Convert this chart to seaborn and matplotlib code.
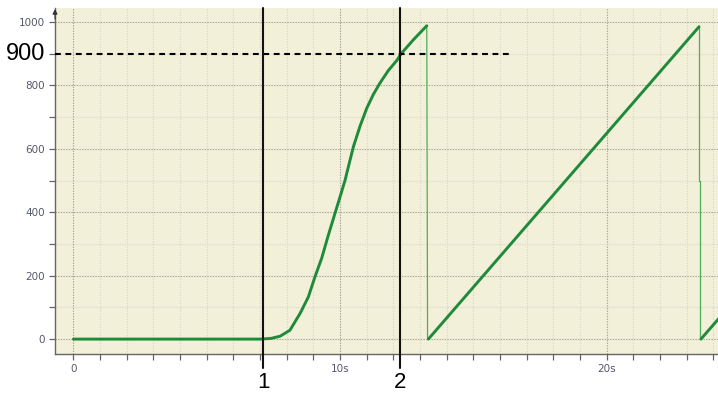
import matplotlib
matplotlib.use("Agg")
import matplotlib.pyplot as plt
from matplotlib.ticker import MultipleLocator, FixedLocator, FuncFormatter
import seaborn as sns
import pandas as pd

# Measured signal (time in seconds, value in counts)
rise_t = [0.0, 7.0, 7.4, 7.75, 8.12, 8.5, 8.81, 9.06, 9.31, 9.56, 9.81, 10.0,
          10.19, 10.25, 10.5, 10.75, 11.0, 11.25, 11.5, 11.81, 12.12, 12.31,
          12.75, 13.25]
rise_v = [0, 0, 2, 9, 28, 81, 133, 197, 255, 328, 397, 449,
          502, 523, 607, 672, 728, 772, 808, 847, 878, 902,
          944, 988]
ramp1_t = [13.31, 23.46]
ramp1_v = [0, 985]
ramp2_t = [23.53, 24.5]
ramp2_v = [0, 94]

# Reset transitions (thin connecting lines)
drop1_t = [13.25, 13.28]
drop1_v = [988, 0]
drop2_t = [23.46, 23.46, 23.50, 23.50]
drop2_v = [985, 500, 500, 0]

# Cursors and threshold
cursor_t = [7.12, 12.25]
cursor_labels = ["1", "2"]
threshold = 900
threshold_end = 16.47

x_labels = {0: "0", 10: "10s", 20: "20s"}
y_labels = [0, 200, 400, 600, 800, 1000]

sns.set_theme(style="white")
plt.rcParams["font.family"] = ["DejaVu Sans"]

fig = plt.figure(figsize=(7.18, 3.93), dpi=100)
ax = fig.add_axes([55 / 718, 1 - 354 / 393, 1 - 55 / 718, (354 - 8) / 393])
ax.set_facecolor("#f2f0d9")

xmin, xmax = -0.69, 24.17
ymin, ymax = -47, 1044
ax.set_xlim(xmin, xmax)
ax.set_ylim(ymin, ymax)

# Grid
for t in range(0, 25):
    major = t % 10 == 0
    ax.axvline(t, color="#a3a397" if major else "#dcdac8", lw=0.8,
               ls=(0, (1.2, 1.2)), zorder=0)
for v in range(0, 1001, 100):
    major = v % 200 == 0
    ax.axhline(v, color="#a3a397" if major else "#dcdac8", lw=0.8,
               ls=(0, (1.2, 1.2)), zorder=0)

green = "#1e8a3a"
light_green = "#4fae55"
for tt, vv in [(rise_t, rise_v), (ramp1_t, ramp1_v), (ramp2_t, ramp2_v)]:
    df = pd.DataFrame({"t": tt, "v": vv})
    sns.lineplot(data=df, x="t", y="v", ax=ax, color=green, lw=2.1,
                 sort=False, estimator=None, zorder=4)
for tt, vv in [(drop1_t, drop1_v), (drop2_t, drop2_v)]:
    df = pd.DataFrame({"t": tt, "v": vv})
    sns.lineplot(data=df, x="t", y="v", ax=ax, color=light_green, lw=0.9,
                 sort=False, estimator=None, zorder=3)

# Threshold line
ax.plot([xmin, threshold_end], [threshold, threshold], color="black",
        lw=1.5, ls=(0, (2.8, 2.2)), zorder=5, clip_on=False)
ax.text(-0.015, threshold, str(threshold), transform=ax.get_yaxis_transform(),
        ha="right", va="center", fontsize=17, family="Liberation Sans",
        color="black")

# Cursors extending below the axis
trans = ax.get_xaxis_transform()
for t, lab in zip(cursor_t, cursor_labels):
    ax.plot([t, t], [-0.04, 1.0], transform=trans, color="#111111", lw=1.5,
            zorder=6, clip_on=False)
    ax.text(t, -0.052, lab, transform=trans, ha="center", va="top",
            fontsize=16, family="Liberation Sans", color="black")

# Axes spines and ticks
for side in ["top", "right"]:
    ax.spines[side].set_visible(False)
for side in ["left", "bottom"]:
    ax.spines[side].set_color("#666666")
    ax.spines[side].set_linewidth(1.0)

ax.xaxis.set_major_locator(MultipleLocator(1))
ax.xaxis.set_major_formatter(FuncFormatter(lambda x, p: x_labels.get(int(round(x)), "")))
ax.yaxis.set_major_locator(FixedLocator(y_labels))
ax.yaxis.set_minor_locator(MultipleLocator(100))
ax.tick_params(axis="both", which="both", direction="out", color="#666666",
               length=4, width=0.9, labelsize=7.5, labelcolor="#55576a")
ax.tick_params(axis="both", which="major", left=True, bottom=True)
ax.tick_params(axis="y", which="minor", left=True, length=4)
ax.tick_params(axis="x", pad=3)
ax.set_xlabel("")
ax.set_ylabel("")

# Arrow on top of the value axis
ax.annotate("", xy=(xmin, 1.005), xycoords=("data", "axes fraction"),
            xytext=(xmin, 0.96), textcoords=("data", "axes fraction"),
            arrowprops=dict(arrowstyle="-|>", color="#333333", lw=0.8,
                            mutation_scale=7), annotation_clip=False)

fig.savefig("out.png", dpi=100, facecolor="white")
